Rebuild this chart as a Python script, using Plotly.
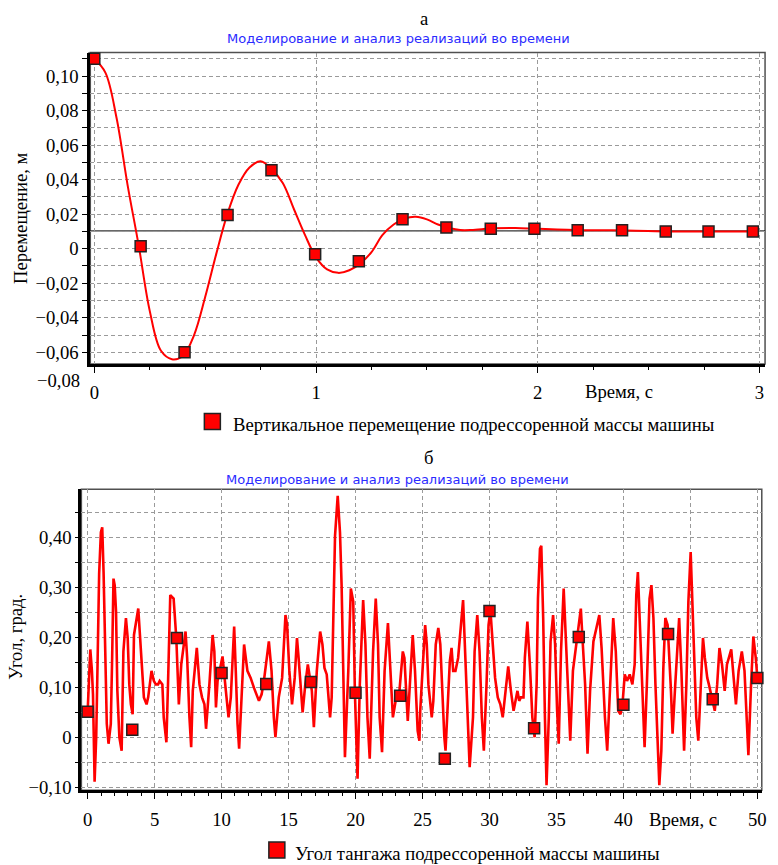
import plotly.graph_objects as go

W, H = 778, 865

# ---------------- Chart (a): vertical displacement ----------------
disp_t = [0.00, 0.05, 0.10, 0.15, 0.20, 0.25, 0.30, 0.35, 0.40, 0.45,
          0.50, 0.55, 0.60, 0.65, 0.70, 0.75, 0.80, 0.85, 0.90, 0.95,
          1.00, 1.05, 1.10, 1.15, 1.20, 1.25, 1.30, 1.35, 1.40, 1.45,
          1.50, 1.55, 1.60, 1.65, 1.70, 1.80, 1.90, 2.00, 2.20, 2.40,
          2.60, 2.80, 2.99]
disp_v = [0.1100, 0.1020, 0.0760, 0.0370, 0.0020, -0.0360, -0.0590, -0.0640, -0.0620, -0.0500,
          -0.0280, -0.0030, 0.0200, 0.0370, 0.0470, 0.0506, 0.0460, 0.0380, 0.0230, 0.0080,
          -0.0050, -0.0120, -0.0140, -0.0125, -0.0085, -0.0020, 0.0080, 0.0140, 0.0175, 0.0185,
          0.0170, 0.0140, 0.0120, 0.0108, 0.0108, 0.0118, 0.0120, 0.0115, 0.0107, 0.0106,
          0.0100, 0.0100, 0.0100]
disp_marker_t = [0.0, 0.209, 0.407, 0.601, 0.799, 0.996, 1.193, 1.390,
                 1.588, 1.788, 1.985, 2.180, 2.380, 2.577, 2.770, 2.970]
disp_marker_v = [0.1100, 0.0014, -0.0600, 0.0195, 0.0454, -0.0032, -0.0072, 0.0171,
                 0.0123, 0.0115, 0.0115, 0.0107, 0.0107, 0.0100, 0.0100, 0.0100]
steady_level = 0.0103

top_x_ticks = [0, 1, 2, 3]
top_x_labels = ["0", "1", "2", "3"]
top_y_ticks = [0.10, 0.08, 0.06, 0.04, 0.02, 0.0, -0.02, -0.04, -0.06]
top_y_labels = ["0,10", "0,08", "0,06", "0,04", "0,02", "0", "−0,02", "−0,04", "−0,06"]
top_extra_label = "−0,08"

# ---------------- Chart (б): pitch angle ----------------
pitch_t = [0.00, 0.20, 0.32, 0.40, 0.52, 0.64, 0.74, 0.86, 0.99, 1.09, 1.19, 1.31, 1.43, 1.56,
           1.73, 1.83, 1.93, 2.02, 2.12, 2.22, 2.37, 2.54, 2.67, 2.86, 2.99, 3.11, 3.23, 3.36,
           3.46, 3.78, 3.90, 4.02, 4.20, 4.40, 4.52, 4.77, 4.94, 5.09, 5.26, 5.38, 5.58, 5.68,
           5.88, 6.00, 6.17, 6.42, 6.62, 6.81, 6.99, 7.31, 7.43, 7.60, 7.73, 7.85, 8.15, 8.35,
           8.54, 8.72, 8.84, 9.09, 9.33, 9.46, 9.58, 9.70, 10.07, 10.32, 10.52, 10.69, 10.94,
           11.06, 11.19, 11.31, 11.51, 11.68, 11.93, 12.17, 12.42, 12.79, 12.99, 13.16, 13.53,
           13.73, 13.90, 14.02, 14.27, 14.52, 14.77, 14.89, 15.06, 15.26, 15.46, 15.63, 15.75,
           15.93, 16.05, 16.25, 16.44, 16.74, 16.89, 17.11, 17.36, 17.53, 17.68, 17.85, 17.98,
           18.10, 18.22, 18.35, 18.47, 18.67, 18.84, 18.96, 19.09, 19.21, 19.46, 19.65, 19.83,
           19.95, 20.15, 20.32, 20.57, 20.74, 20.89, 21.06, 21.31, 21.51, 21.68, 21.80, 21.98,
           22.17, 22.42, 22.62, 22.79, 23.04, 23.28, 23.53, 23.65, 23.90, 24.27, 24.44, 24.64,
           24.77, 24.83, 25.00, 25.20, 25.32, 25.44, 25.69, 25.81, 25.99, 26.18, 26.33, 26.48,
           26.63, 26.72, 26.87, 27.04, 27.17, 27.29, 27.46, 27.66, 28.03, 28.15, 28.35, 28.52,
           28.77, 28.89, 29.09, 29.26, 29.43, 29.58, 29.78, 29.93, 30.07, 30.25, 30.42, 30.62,
           30.81, 30.99, 31.23, 31.40, 31.60, 31.80, 32.09, 32.22, 32.34, 32.54, 32.64, 32.83,
           33.03, 33.20, 33.37, 33.52, 33.62, 33.77, 33.87, 34.01, 34.14, 34.26, 34.43, 34.56,
           34.75, 34.90, 35.05, 35.17, 35.34, 35.54, 35.69, 35.84, 36.03, 36.23, 36.53, 36.82,
           36.97, 37.14, 37.32, 37.51, 37.76, 38.00, 38.20, 38.37, 38.50, 38.62, 38.79, 38.99,
           39.24, 39.43, 39.61, 39.78, 39.93, 40.10, 40.27, 40.47, 40.67, 40.84, 40.96, 41.08,
           41.26, 41.45, 41.58, 41.75, 41.95, 42.09, 42.24, 42.39, 42.56, 42.68, 42.83, 42.98,
           43.13, 43.30, 43.55, 43.67, 43.87, 44.04, 44.16, 44.33, 44.53, 44.70, 44.85, 45.02,
           45.15, 45.30, 45.44, 45.59, 45.76, 45.94, 46.08, 46.26, 46.38, 46.63, 46.82, 47.00,
           47.17, 47.36, 47.56, 47.73, 48.05, 48.23, 48.40, 48.60, 48.84, 49.04, 49.21, 49.33,
           49.53, 49.70, 49.88, 50.00]
pitch_v = [0.051, 0.176, 0.133, 0.086, -0.089, 0.000, 0.146, 0.328, 0.411, 0.421, 0.331, 0.172, 0.027, -0.013,
           0.027, 0.159, 0.318, 0.305, 0.252, 0.093, 0.000, -0.027, 0.172, 0.239, 0.199, 0.106, 0.066, 0.046,
           0.205, 0.258, 0.205, 0.139, 0.080, 0.066, 0.080, 0.133, 0.113, 0.106, 0.106, 0.113, 0.106, 0.040,
           -0.010, 0.106, 0.285, 0.278, 0.199, 0.066, 0.146, 0.212, 0.159, 0.040, -0.020, 0.093, 0.179, 0.106,
           0.080, 0.066, 0.017, 0.106, 0.205, 0.172, 0.060, 0.113, 0.162, 0.093, 0.040, 0.080, 0.222,
           0.133, 0.027, -0.023, 0.106, 0.186, 0.133, 0.119, 0.099, 0.073, 0.086, 0.113, 0.192,
           0.133, 0.040, 0.000, 0.080, 0.119, 0.245, 0.225, 0.133, 0.066, 0.119, 0.199, 0.159,
           0.080, 0.050, 0.106, 0.146, 0.093, 0.020, 0.133, 0.212, 0.186, 0.139, 0.126, 0.086,
           0.040, 0.080, 0.232, 0.404, 0.484, 0.411, 0.305, 0.133, -0.040, 0.133, 0.298, 0.272,
           0.093, -0.083, 0.106, 0.275, 0.186, 0.040, -0.043, 0.172, 0.278, 0.186, 0.040, -0.030,
           0.133, 0.229, 0.139, 0.040, 0.080, 0.093, 0.172, 0.159, 0.033, 0.205, 0.133, 0.013,
           -0.007, 0.053, 0.133, 0.225, 0.186, 0.106, 0.040, 0.073, 0.186, 0.219, 0.186, 0.080,
           0.000, -0.027, 0.073, 0.152, 0.179, 0.133, 0.133, 0.159, 0.275, 0.186, 0.053, -0.060,
           0.040, 0.172, 0.245, 0.172, 0.040, -0.027, 0.106, 0.225, 0.255, 0.172, 0.119, 0.080,
           0.066, 0.040, 0.093, 0.142, 0.093, 0.053, 0.093, 0.073, 0.080, 0.080, 0.159, 0.232,
           0.139, 0.040, 0.000, 0.106, 0.278, 0.378, 0.384, 0.239, 0.040, -0.096, 0.040, 0.192,
           0.245, 0.186, 0.053, -0.013, 0.172, 0.298, 0.205, 0.106, -0.007, 0.133, 0.192, 0.258,
           0.186, 0.106, -0.033, 0.093, 0.192, 0.225, 0.245, 0.179, 0.093, 0.040, -0.027, 0.106,
           0.239, 0.172, 0.053, 0.046, 0.066, 0.126, 0.113, 0.126, 0.106, 0.146, 0.285, 0.331,
           0.205, 0.040, -0.020, 0.106, 0.278, 0.305, 0.239, 0.106, -0.040, -0.096, -0.027, 0.139,
           0.239, 0.225, 0.093, 0.007, 0.106, 0.199, 0.239, 0.133, -0.027, 0.106, 0.272, 0.371,
           0.278, 0.139, 0.040, -0.007, 0.093, 0.199, 0.159, 0.119, 0.106, 0.076, 0.053, 0.106,
           0.179, 0.146, 0.093, 0.146, 0.176, 0.119, 0.066, 0.133, 0.172, 0.133, 0.040, -0.036,
           0.106, 0.202, 0.159, 0.119]
pitch_marker_t = [0.0, 3.333, 6.667, 10.0, 13.333, 16.667, 20.0, 23.333,
                  26.667, 30.0, 33.333, 36.667, 40.0, 43.333, 46.667, 50.0]
pitch_marker_v = [0.051, 0.015, 0.199, 0.129, 0.107, 0.111, 0.089, 0.083,
                  -0.043, 0.253, 0.018, 0.201, 0.065, 0.207, 0.076, 0.119]

bot_x_ticks = [0, 5, 10, 15, 20, 25, 30, 35, 40, 45, 50]
bot_x_labels = ["0", "5", "10", "15", "20", "25", "30", "35", "40", "", "50"]
bot_y_ticks = [0.40, 0.30, 0.20, 0.10, 0.0, -0.10]
bot_y_labels = ["0,40", "0,30", "0,20", "0,10", "0", "−0,10"]

# ---------------- Texts ----------------
title_a = "а"
title_b = "б"
subtitle = "Моделирование и анализ реализаций во времени"
legend_a = "Вертикальное перемещение подрессоренной массы машины"
legend_b = "Угол тангажа подрессоренной массы машины"
ytitle_a = "Перемещение, м"
ytitle_b = "Угол, град."
xtitle = "Время, с"

SERIF = "Liberation Serif"
SANS = "DejaVu Sans"
FS = 18.67
RED = "#ff0000"
GRID = "#9a9a9a"


def px(x):
    return x / W


def py(y):
    return 1 - y / H


fig = go.Figure()

marker_style = dict(symbol="square", size=11, color=RED, line=dict(color="#222222", width=1.5))

fig.add_trace(go.Scatter(x=disp_t, y=disp_v, mode="lines",
                         line=dict(color=RED, width=2, shape="spline", smoothing=1.0),
                         showlegend=False, xaxis="x", yaxis="y", hoverinfo="skip"))
fig.add_trace(go.Scatter(x=disp_marker_t, y=disp_marker_v, mode="markers", marker=marker_style,
                         name=legend_a, showlegend=False, xaxis="x", yaxis="y", cliponaxis=False))

fig.add_trace(go.Scatter(x=pitch_t, y=pitch_v, mode="lines", line=dict(color=RED, width=2.6),
                         showlegend=False, xaxis="x2", yaxis="y2", hoverinfo="skip"))
fig.add_trace(go.Scatter(x=pitch_marker_t, y=pitch_marker_v, mode="markers", marker=marker_style,
                         name=legend_b, showlegend=False, xaxis="x2", yaxis="y2", cliponaxis=False))

common_axis = dict(showline=True, linecolor="black", linewidth=3, ticks="outside", tickcolor="black",
                   tickwidth=1, showgrid=True, gridcolor=GRID, gridwidth=1, griddash="4px,3px",
                   zeroline=False, tickfont=dict(family=SERIF, size=FS, color="black"))

fig.update_layout(
    width=W, height=H,
    margin=dict(l=0, r=0, t=0, b=0),
    paper_bgcolor="white", plot_bgcolor="white",
    font=dict(family=SERIF, size=FS, color="black"),
    showlegend=False,
    xaxis=dict(domain=[px(90), px(770)], range=[-0.018, 3.025], anchor="y",
               tickmode="array", tickvals=top_x_ticks, ticktext=top_x_labels, ticklen=6,
               ticklabelstandoff=4,
               minor=dict(tickmode="linear", tick0=0, dtick=0.25, ticks="outside", ticklen=3,
                          tickcolor="black", showgrid=False),
               **common_axis),
    yaxis=dict(domain=[py(367), py(53)], range=[-0.0668, 0.1136], anchor="x",
               tickmode="array", tickvals=top_y_ticks, ticktext=top_y_labels, ticklen=5,
               minor=dict(tickmode="linear", tick0=0, dtick=0.01, ticks="outside", ticklen=5,
                          tickcolor="black", showgrid=True, gridcolor=GRID, griddash="4px,3px"),
               **common_axis),
    xaxis2=dict(domain=[px(81), px(766.7)], range=[-0.467, 50.33], anchor="y2",
                tickmode="array", tickvals=bot_x_ticks, ticktext=bot_x_labels, ticklen=6,
                ticklabelstandoff=4,
                minor=dict(tickmode="linear", tick0=0, dtick=1, ticks="outside", ticklen=3,
                           tickcolor="black", showgrid=False),
                **common_axis),
    yaxis2=dict(domain=[py(796.7), py(493.3)], range=[-0.1062, 0.497], anchor="x2",
                tickmode="array", tickvals=bot_y_ticks, ticktext=bot_y_labels, ticklen=3,
                minor=dict(tickmode="linear", tick0=0, dtick=0.05, ticks="outside", ticklen=3,
                           tickcolor="black", showgrid=True, gridcolor=GRID, griddash="4px,3px"),
                **common_axis),
)

shapes = []
for xr, yr in (("x domain", "y domain"), ("x2 domain", "y2 domain")):
    shapes.append(dict(type="rect", xref=xr, yref=yr, x0=0, x1=1, y0=0, y1=1,
                       line=dict(color="#505050", width=1.5), layer="below"))
shapes.append(dict(type="line", xref="x domain", yref="y", x0=0, x1=1, y0=steady_level, y1=steady_level,
                   line=dict(color="black", width=1), layer="below"))
# legend keys (square swatches)
for cx, cy in ((213, 425), (278, 857)):
    shapes.append(dict(type="rect", xref="paper", yref="paper",
                       xsizemode="pixel", ysizemode="pixel", xanchor=px(cx), yanchor=py(cy),
                       x0=-8, x1=8, y0=-8, y1=8, fillcolor=RED,
                       line=dict(color="#222222", width=1.5), layer="above"))
fig.update_layout(shapes=shapes)

ann = []
ann.append(dict(text=title_a, x=px(427), y=py(19), font=dict(family=SERIF, size=FS)))
ann.append(dict(text=subtitle, x=px(401), y=py(39), font=dict(family=SANS, size=13, color="#2b2bff")))
ann.append(dict(text=title_b, x=px(431), y=py(461), font=dict(family=SERIF, size=FS), borderpad=0))
ann.append(dict(text=subtitle, x=px(400), y=py(483), font=dict(family=SANS, size=13, color="#2b2bff"),
                borderpad=0))
ann.append(dict(text=ytitle_a, x=px(19), y=py(220), textangle=-90, font=dict(family=SERIF, size=FS)))
ann.append(dict(text=ytitle_b, x=px(15), y=py(642), textangle=-90, font=dict(family=SERIF, size=FS)))
ann.append(dict(text=xtitle, x=px(623), y=py(395), font=dict(family=SERIF, size=FS)))
ann.append(dict(text=xtitle, x=px(687), y=py(826), font=dict(family=SERIF, size=FS)))
ann.append(dict(text=top_extra_label, x=px(82), y=py(384), xanchor="right",
                font=dict(family=SERIF, size=FS)))
ann.append(dict(text=legend_a, x=px(232), y=py(428), xanchor="left", font=dict(family=SERIF, size=FS)))
ann.append(dict(text=legend_b, x=px(294), y=py(860), xanchor="left", font=dict(family=SERIF, size=FS)))
for a in ann:
    a.setdefault("xanchor", "center")
    a["xref"] = "paper"
    a["yref"] = "paper"
    a["yanchor"] = "middle"
    a["showarrow"] = False
fig.update_layout(annotations=ann)

fig.write_html("out.html")
